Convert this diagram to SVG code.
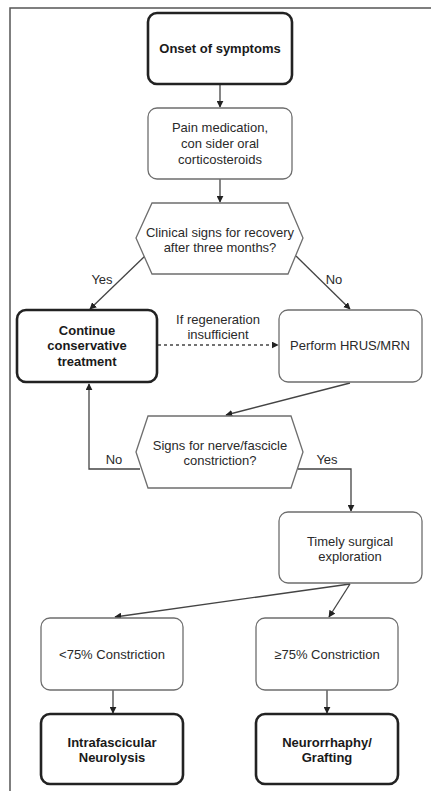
<svg xmlns="http://www.w3.org/2000/svg" width="431" height="791" viewBox="0 0 431 791">
  <defs>
    <marker id="arr" viewBox="0 0 10 10" refX="9" refY="5" markerWidth="7" markerHeight="7" markerUnits="userSpaceOnUse" orient="auto">
      <path d="M0,0 L10,5 L0,10 z" fill="#222"/>
    </marker>
    <style>
      text { font-family: "Liberation Sans", Arial, Helvetica, sans-serif; font-size: 13px; fill: #2a2a2a; text-anchor: middle; }
      .b { font-weight: bold; fill: #1a1a1a; }
      .thin { fill: #fff; stroke: #6e6e6e; stroke-width: 1.3; }
      .thick { fill: #fff; stroke: #222; stroke-width: 2.6; }
      .edge { fill: none; stroke: #444; stroke-width: 1.3; marker-end: url(#arr); }
      .dash { stroke-dasharray: 3 3; }
      .frame { fill: none; stroke: #555; stroke-width: 1.5; }
    </style>
  </defs>

  <rect width="431" height="791" fill="#fff"/>
  <path class="frame" d="M10,791 V8 H431"/>

  <g id="connectors">
    <line class="edge" x1="220" y1="84" x2="220" y2="107"/>
    <line class="edge" x1="220" y1="179" x2="220" y2="202"/>
    <line class="edge" x1="145" y1="256" x2="90" y2="309"/>
    <line class="edge" x1="296" y1="256" x2="350" y2="309"/>
    <line class="edge dash" x1="158" y1="345" x2="278" y2="345"/>
    <line class="edge" x1="350" y1="383" x2="226" y2="415"/>
    <polyline class="edge" points="140,469 89,469 89,384"/>
    <polyline class="edge" points="298,469 351,469 351,511"/>
    <line class="edge" x1="350" y1="584" x2="115" y2="617"/>
    <line class="edge" x1="350" y1="584" x2="329" y2="617"/>
    <line class="edge" x1="113" y1="690" x2="113" y2="713"/>
    <line class="edge" x1="327" y1="690" x2="327" y2="713"/>
    <text x="102" y="284">Yes</text>
    <text x="334" y="284">No</text>
    <text x="218" y="324">If regeneration</text>
    <text x="218" y="339">insufficient</text>
    <text x="114" y="464">No</text>
    <text x="327" y="464">Yes</text>
  </g>

  <g id="onset">
    <rect class="thick" x="148" y="13" width="144" height="71" rx="9"/>
    <text class="b" x="220" y="53">Onset of symptoms</text>
  </g>

  <g id="pain-medication">
    <rect class="thin" x="148" y="108" width="144" height="71" rx="9"/>
    <text x="220" y="132">Pain medication,</text>
    <text x="220" y="148">con sider oral</text>
    <text x="220" y="164">corticosteroids</text>
  </g>

  <g id="recovery-check">
    <polygon class="thin" points="136,238 152,203 288,203 303,238 288,274 152,274"/>
    <text x="220" y="237">Clinical signs for recovery</text>
    <text x="220" y="252">after three months?</text>
  </g>

  <g id="continue-conservative">
    <rect class="thick" x="17" y="310" width="140" height="72" rx="9"/>
    <text class="b" x="87" y="335">Continue</text>
    <text class="b" x="87" y="350">conservative</text>
    <text class="b" x="87" y="366">treatment</text>
  </g>

  <g id="hrus-mrn">
    <rect class="thin" x="279" y="310" width="143" height="72" rx="9"/>
    <text x="350" y="350">Perform HRUS/MRN</text>
  </g>

  <g id="constriction-check">
    <polygon class="thin" points="136,452 148,416 291,416 303,452 291,488 148,488"/>
    <text x="220" y="450">Signs for nerve/fascicle</text>
    <text x="220" y="465">constriction?</text>
  </g>

  <g id="surgical-exploration">
    <rect class="thin" x="279" y="512" width="143" height="71" rx="9"/>
    <text x="350" y="546">Timely surgical</text>
    <text x="350" y="561">exploration</text>
  </g>

  <g id="below-75">
    <rect class="thin" x="41" y="618" width="142" height="72" rx="9"/>
    <text x="112" y="659">&lt;75% Constriction</text>
  </g>

  <g id="above-75">
    <rect class="thin" x="256" y="618" width="142" height="72" rx="9"/>
    <text x="327" y="659">≥75% Constriction</text>
  </g>

  <g id="neurolysis">
    <rect class="thick" x="41" y="714" width="142" height="70" rx="9"/>
    <text class="b" x="112" y="747">Intrafascicular</text>
    <text class="b" x="112" y="762">Neurolysis</text>
  </g>

  <g id="neurorrhaphy">
    <rect class="thick" x="256" y="714" width="142" height="70" rx="9"/>
    <text class="b" x="327" y="747">Neurorrhaphy/</text>
    <text class="b" x="327" y="762">Grafting</text>
  </g>
</svg>
